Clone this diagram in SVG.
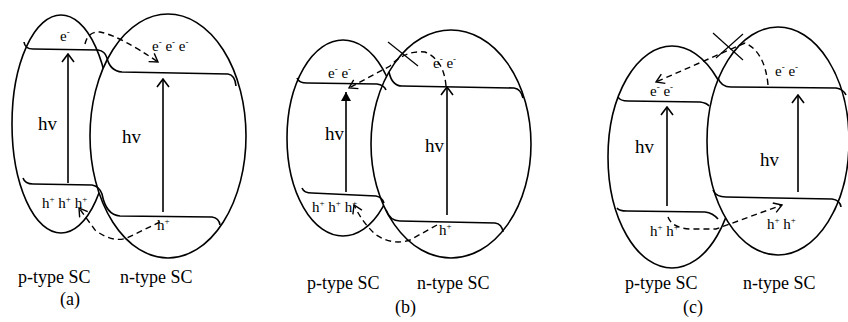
<svg xmlns="http://www.w3.org/2000/svg" width="848" height="322" viewBox="0 0 848 322" font-family="'Liberation Serif', 'Times New Roman', 'DejaVu Serif', serif">
<style>
.el{fill:#fff;stroke:#000;stroke-width:1.6}
.band{fill:none;stroke:#000;stroke-width:1.6}
.hv{fill:none;stroke:#000;stroke-width:1.6}
.dash{fill:none;stroke:#000;stroke-width:1.4;stroke-dasharray:6 4}
.x{fill:none;stroke:#000;stroke-width:1.2}
text{font-family:'Liberation Serif','Times New Roman','DejaVu Serif',serif;fill:#000}
.s{font-size:15px}
.m{font-size:19px}
.l{font-size:18px}
.u{font-size:9px}
</style>
<defs>
<marker id="vh" viewBox="0 0 14 14" refX="13" refY="7" markerWidth="14" markerHeight="14" markerUnits="userSpaceOnUse" orient="auto">
<path d="M5,1 L13,7 L5,13" fill="none" stroke="#000" stroke-width="1.6"/>
</marker>
<marker id="fh" viewBox="0 0 12 12" refX="11" refY="6" markerWidth="12" markerHeight="12" markerUnits="userSpaceOnUse" orient="auto">
<path d="M2,1 L11,6 L2,11 Z" fill="#000"/>
</marker>
<marker id="dh" viewBox="0 0 12 12" refX="11" refY="6" markerWidth="12" markerHeight="12" markerUnits="userSpaceOnUse" orient="auto">
<path d="M3,1 L11,6 L3,11" fill="none" stroke="#000" stroke-width="1.4"/>
</marker>
</defs>

<!-- Panel (a) -->
<g id="a-p">
<ellipse class="el" cx="61" cy="124" rx="49" ry="109"/>
</g>
<g id="a-n">
<ellipse class="el" cx="168" cy="136" rx="78" ry="122"/>
</g>
<g id="a-bands">
<path class="band" d="M24,42 Q25,49 33,49 L98,50 Q105,51 107,58 Q110,71 122,72 L228,74 Q235,75 236,86"/>
<path class="band" d="M23,178 Q25,184 33,184 L92,185 Q99,186 102,194 Q106,215 120,216 L212,217 Q219,218 220,225"/>
</g>
<g id="a-connectors">
<line class="hv" x1="68" y1="183" x2="68" y2="54" marker-end="url(#vh)"/>
<line class="hv" x1="163" y1="212" x2="163" y2="79" marker-end="url(#vh)"/>
<path class="dash" d="M85,44 Q88,31 100,32 Q120,36 158,62" marker-end="url(#dh)"/>
<path class="dash" d="M160,222 L127,238 Q112,243 95,230 L79,208" marker-end="url(#dh)"/>
</g>
<g id="a-labels">
<text class="s" x="60" y="41">e<tspan class="u" dy="-6">-</tspan></text>
<text class="s" x="152" y="51">e<tspan class="u" dy="-6">-</tspan><tspan dy="6"> e</tspan><tspan class="u" dy="-6">-</tspan><tspan dy="6"> e</tspan><tspan class="u" dy="-6">-</tspan></text>
<text class="m" x="38" y="130">hv</text>
<text class="m" x="122" y="143">hv</text>
<text class="s" x="42" y="208">h<tspan class="u" dy="-6">+</tspan><tspan dy="6"> h</tspan><tspan class="u" dy="-6">+</tspan><tspan dy="6"> h</tspan><tspan class="u" dy="-6">+</tspan></text>
<text class="s" x="157" y="230">h<tspan class="u" dy="-6">+</tspan></text>
<text class="l" x="18" y="283">p-type SC</text>
<text class="l" x="120" y="283">n-type SC</text>
<text class="l" x="60" y="305">(a)</text>
</g>

<!-- Panel (b) -->
<g id="b-p">
<ellipse class="el" cx="343" cy="138" rx="56" ry="98"/>
</g>
<g id="b-n">
<ellipse class="el" cx="451" cy="144" rx="80" ry="114"/>
</g>
<g id="b-bands">
<path class="band" d="M297,78 Q299,83 307,83 L377,84 Q384,85 386,90"/>
<path class="band" d="M389,72 Q392,86 402,86 L514,88 Q521,89 523,98"/>
<path class="band" d="M302,188 Q304,193 312,193 L376,196 Q382,197 384,203"/>
<path class="band" d="M386,210 Q390,221 400,221 L495,223 Q502,224 503,232"/>
</g>
<g id="b-connectors">
<line class="hv" x1="346" y1="192" x2="346" y2="92" marker-end="url(#fh)"/>
<line class="hv" x1="447" y1="215" x2="447" y2="87" marker-end="url(#vh)"/>
<path class="dash" d="M446,86 Q444,60 425,52 Q405,50 390,66 L349,88" marker-end="url(#dh)"/>
<line class="x" x1="388" y1="42" x2="418" y2="66"/>
<path class="dash" d="M437,225 L410,240 Q392,246 375,234 Q362,222 354,205" marker-end="url(#dh)"/>
</g>
<g id="b-labels">
<text class="s" x="328" y="78">e<tspan class="u" dy="-6">-</tspan><tspan dy="6"> e</tspan><tspan class="u" dy="-6">-</tspan></text>
<text class="s" x="433" y="68">e<tspan class="u" dy="-6">-</tspan><tspan dy="6"> e</tspan><tspan class="u" dy="-6">-</tspan></text>
<text class="m" x="325" y="140">hv</text>
<text class="m" x="425" y="152">hv</text>
<text class="s" x="312" y="212">h<tspan class="u" dy="-6">+</tspan><tspan dy="6"> h</tspan><tspan class="u" dy="-6">+</tspan><tspan dy="6"> h</tspan><tspan class="u" dy="-6">+</tspan></text>
<text class="s" x="439" y="235">h<tspan class="u" dy="-6">+</tspan></text>
<text class="l" x="307" y="289">p-type SC</text>
<text class="l" x="417" y="289">n-type SC</text>
<text class="l" x="395" y="313">(b)</text>
</g>

<!-- Panel (c) -->
<g id="c-p">
<ellipse class="el" cx="672" cy="157" rx="64" ry="111"/>
</g>
<g id="c-n">
<ellipse class="el" cx="778" cy="141" rx="71" ry="114"/>
</g>
<g id="c-bands">
<path class="band" d="M618,97 Q620,101 628,101 L700,102 Q707,103 709,106"/>
<path class="band" d="M718,78 Q721,87 731,87 L836,88 Q843,89 846,95"/>
<path class="band" d="M617,208 Q619,211 627,211 L705,212 Q713,213 718,219"/>
<path class="band" d="M713,190 Q716,197 726,197 L832,199 Q840,200 841,207"/>
</g>
<g id="c-connectors">
<line class="hv" x1="667" y1="206" x2="667" y2="107" marker-end="url(#vh)"/>
<line class="hv" x1="798" y1="192" x2="798" y2="95" marker-end="url(#vh)"/>
<path class="dash" d="M768,85 Q765,52 745,43 L656,82" marker-end="url(#dh)"/>
<line class="x" x1="713" y1="33" x2="743" y2="60"/>
<line class="x" x1="716" y1="58" x2="743" y2="34"/>
<path class="dash" d="M668,217 Q672,228 690,229 L716,229 L782,205" marker-end="url(#dh)"/>
</g>
<g id="c-labels">
<text class="s" x="650" y="96">e<tspan class="u" dy="-6">-</tspan><tspan dy="6"> e</tspan><tspan class="u" dy="-6">-</tspan></text>
<text class="s" x="775" y="76">e<tspan class="u" dy="-6">-</tspan><tspan dy="6"> e</tspan><tspan class="u" dy="-6">-</tspan></text>
<text class="m" x="635" y="153">hv</text>
<text class="m" x="760" y="166">hv</text>
<text class="s" x="650" y="236">h<tspan class="u" dy="-6">+</tspan><tspan dy="6"> h</tspan><tspan class="u" dy="-6">+</tspan></text>
<text class="s" x="767" y="229">h<tspan class="u" dy="-6">+</tspan><tspan dy="6"> h</tspan><tspan class="u" dy="-6">+</tspan></text>
<text class="l" x="625" y="289">p-type SC</text>
<text class="l" x="743" y="289">n-type SC</text>
<text class="l" x="683" y="313">(c)</text>
</g>
</svg>
